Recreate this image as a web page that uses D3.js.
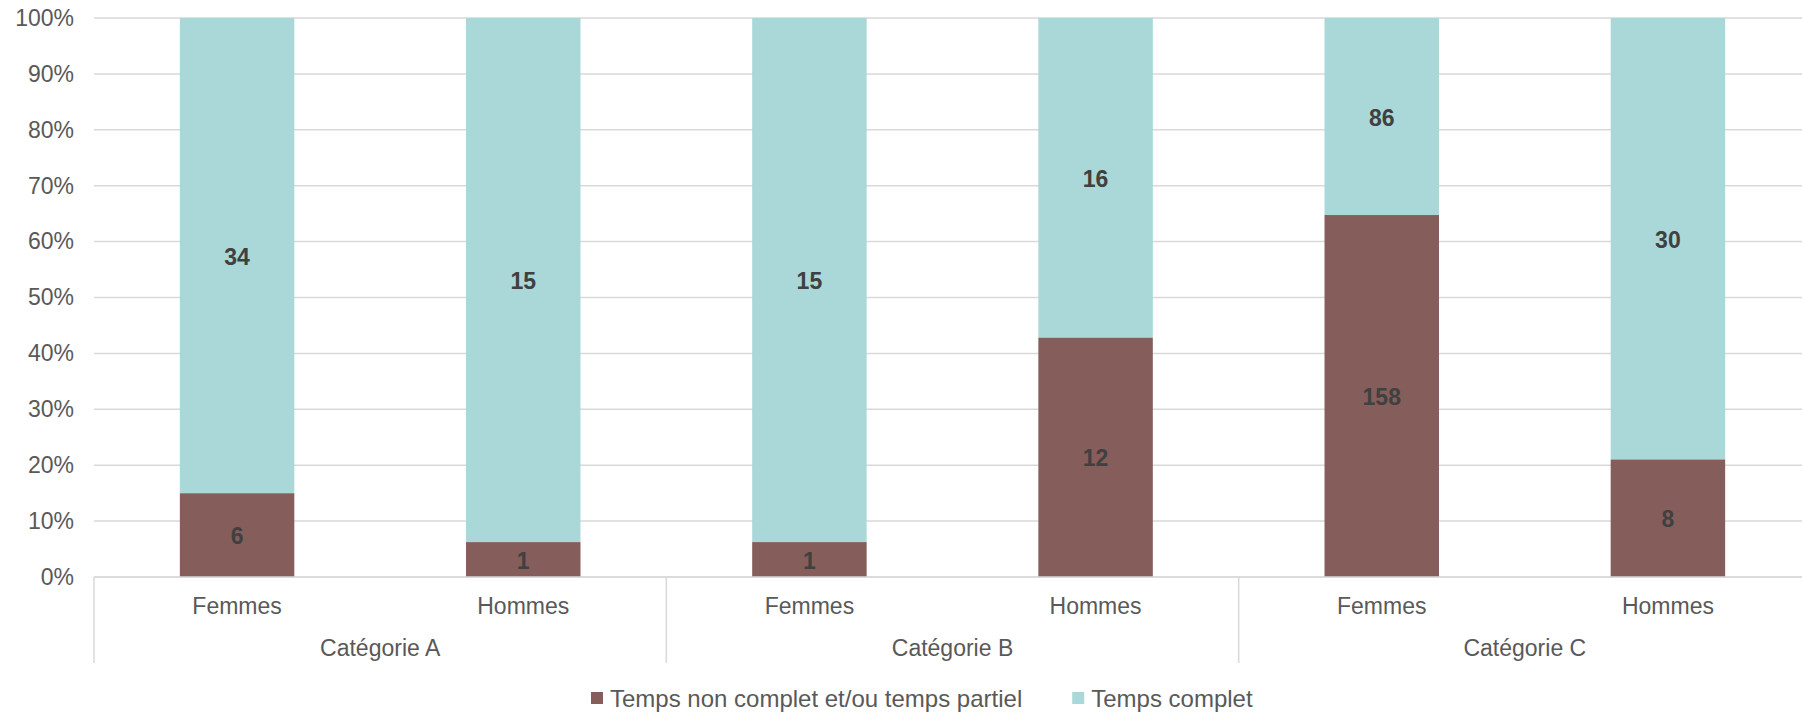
<!DOCTYPE html>
<html>
<head>
<meta charset="utf-8">
<script src="https://cdn.jsdelivr.net/npm/d3@7"></script>
<style>
  html, body { margin: 0; padding: 0; background: #ffffff; }
  svg { display: block; font-family: "Liberation Sans", Arial, sans-serif; }
</style>
</head>
<body>
<svg id="chart" width="1802" height="713"></svg>
<script>
// Groups and sub-categories along the x axis
const groups = ["Catégorie A", "Catégorie B", "Catégorie C"];
const sexes = ["Femmes", "Hommes"];

// Head counts per bar, in group order (Femmes, Hommes for each group)
const partTime = [6, 1, 1, 12, 158, 8];
const fullTime = [34, 15, 15, 16, 86, 30];

const seriesNames = ["Temps non complet et/ou temps partiel", "Temps complet"];
const seriesColors = ["#855E5B", "#AAD7D8"];

const yTicks = [0, 0.1, 0.2, 0.3, 0.4, 0.5, 0.6, 0.7, 0.8, 0.9, 1.0];

const svg = d3.select("#chart");

const plot = { left: 94, right: 1811, top: 18, bottom: 577 };

// one row per bar with its stacked shares
const rows = [];
groups.forEach((g, gi) => {
  sexes.forEach((s, si) => {
    const i = gi * sexes.length + si;
    const total = partTime[i] + fullTime[i];
    rows.push({ key: g + "|" + s, group: g, sex: s, part: partTime[i], full: fullTime[i], total });
  });
});

const x = d3.scaleBand()
  .domain(rows.map(d => d.key))
  .range([plot.left, plot.right])
  .paddingInner(0.6)
  .paddingOuter(0.3);

const xGroup = d3.scaleBand()
  .domain(groups)
  .range([plot.left, plot.right])
  .padding(0);

const y = d3.scaleLinear().domain([0, 1]).range([plot.bottom, plot.top]);

// gridlines
svg.append("g")
  .selectAll("line")
  .data(yTicks)
  .join("line")
  .attr("x1", plot.left)
  .attr("x2", plot.right)
  .attr("y1", d => y(d))
  .attr("y2", d => y(d))
  .attr("stroke", "#d9d9d9")
  .attr("stroke-width", 1.5);

// y axis labels
const yAxis = d3.axisLeft(y)
  .tickValues(yTicks)
  .tickFormat(d3.format(".0%"))
  .tickSize(0)
  .tickPadding(20);

svg.append("g")
  .attr("transform", `translate(${plot.left},0)`)
  .call(yAxis)
  .call(g => g.select(".domain").remove())
  .call(g => g.selectAll("text")
    .attr("fill", "#595959")
    .attr("font-size", 23)
    .attr("font-family", "'Liberation Sans', Arial, sans-serif"));

// stacked bars
const stack = d3.stack()
  .keys(["part", "full"])
  .value((d, k) => d[k] / d.total);

const layers = stack(rows);

const layerG = svg.append("g")
  .selectAll("g")
  .data(layers)
  .join("g")
  .attr("fill", (d, i) => seriesColors[i]);

layerG.selectAll("rect")
  .data(d => d)
  .join("rect")
  .attr("x", d => x(d.data.key))
  .attr("width", x.bandwidth())
  .attr("y", d => y(d[1]))
  .attr("height", d => y(d[0]) - y(d[1]));

// value labels centred in each segment
const labelG = svg.append("g");
layers.forEach(layer => {
  labelG.selectAll(null)
    .data(layer)
    .join("text")
    .attr("x", d => x(d.data.key) + x.bandwidth() / 2)
    .attr("y", d => (y(d[0]) + y(d[1])) / 2 + 1)
    .attr("text-anchor", "middle")
    .attr("dominant-baseline", "central")
    .attr("font-size", 23)
    .attr("font-weight", "bold")
    .attr("fill", "#404040")
    .text(d => d.data[layer.key]);
});

// x axis baseline
svg.append("line")
  .attr("x1", plot.left)
  .attr("x2", plot.right)
  .attr("y1", plot.bottom)
  .attr("y2", plot.bottom)
  .attr("stroke", "#d9d9d9")
  .attr("stroke-width", 1.5);

// group dividers below the axis
const dividerX = groups.map(g => xGroup(g)).concat([xGroup(groups[groups.length - 1]) + xGroup.bandwidth()]);
svg.append("g")
  .selectAll("line")
  .data(dividerX)
  .join("line")
  .attr("x1", d => d)
  .attr("x2", d => d)
  .attr("y1", plot.bottom)
  .attr("y2", 663)
  .attr("stroke", "#d9d9d9")
  .attr("stroke-width", 1.5);

// sub-category labels
svg.append("g")
  .selectAll("text")
  .data(rows)
  .join("text")
  .attr("x", d => x(d.key) + x.bandwidth() / 2)
  .attr("y", 606)
  .attr("text-anchor", "middle")
  .attr("dominant-baseline", "central")
  .attr("font-size", 23)
  .attr("fill", "#595959")
  .text(d => d.sex);

// group labels
svg.append("g")
  .selectAll("text")
  .data(groups)
  .join("text")
  .attr("x", d => xGroup(d) + xGroup.bandwidth() / 2)
  .attr("y", 648)
  .attr("text-anchor", "middle")
  .attr("dominant-baseline", "central")
  .attr("font-size", 23)
  .attr("fill", "#595959")
  .text(d => d);

// legend
const legend = svg.append("g");
let lx = 591;
const ly = 698;
const markerSize = 12;
seriesNames.forEach((name, i) => {
  legend.append("rect")
    .attr("x", lx)
    .attr("y", ly - markerSize / 2)
    .attr("width", markerSize)
    .attr("height", markerSize)
    .attr("fill", seriesColors[i]);
  const t = legend.append("text")
    .attr("x", lx + markerSize + 7)
    .attr("y", ly)
    .attr("dominant-baseline", "central")
    .attr("font-size", 24)
    .attr("fill", "#595959")
    .text(name);
  lx = lx + markerSize + 7 + t.node().getComputedTextLength() + 50;
});
</script>
</body>
</html>
